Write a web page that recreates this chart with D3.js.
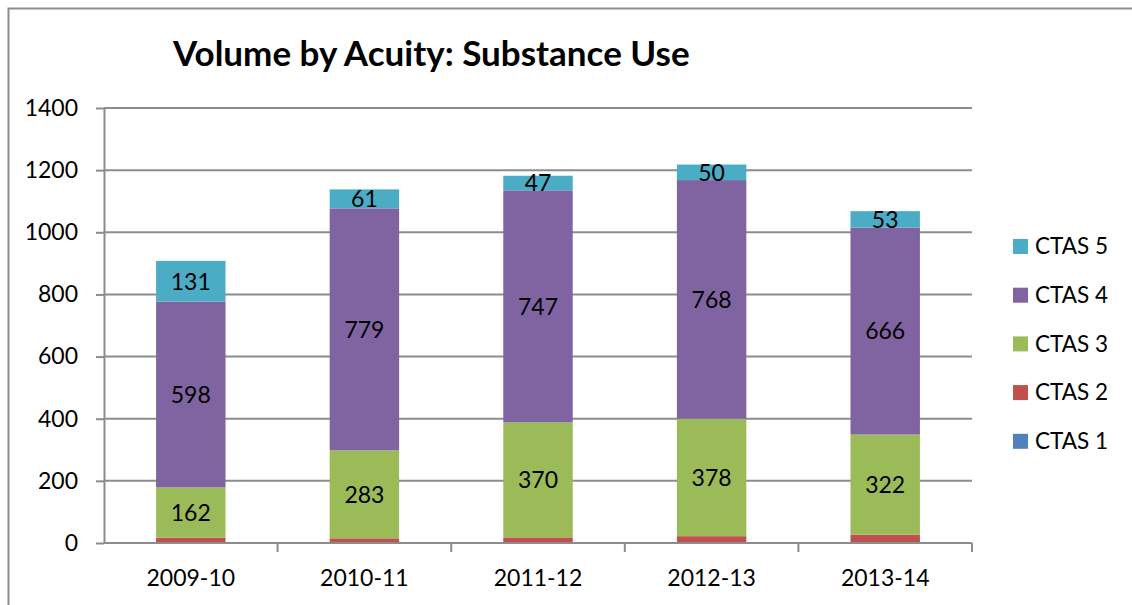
<!DOCTYPE html>
<html>
<head>
<meta charset="utf-8">
<script src="https://cdn.jsdelivr.net/npm/d3@7"></script>
<style>
  body { margin: 0; background: #fff; }
  svg text { font-family: Lato, "Open Sans", sans-serif; fill: #000; }
</style>
</head>
<body>
<svg id="chart"></svg>
<script>
// data
const years = ['2009-10', '2010-11', '2011-12', '2012-13', '2013-14'];
const seriesNames = ['CTAS 1', 'CTAS 2', 'CTAS 3', 'CTAS 4', 'CTAS 5'];
const ctas1 = [2, 3, 2, 2, 3];
const ctas2 = [15, 12, 16, 20, 24];
const ctas3 = [162, 283, 370, 378, 322];
const ctas4 = [598, 779, 747, 768, 666];
const ctas5 = [131, 61, 47, 50, 53];
const yTicks = [0, 200, 400, 600, 800, 1000, 1200, 1400];
const colors = ['#4F81BD', '#C0504D', '#9BBB59', '#8064A2', '#4BACC6'];
const labelled = ['CTAS 3', 'CTAS 4', 'CTAS 5'];

const width = 1132, height = 605;
const margin = {top: 108, right: 160, bottom: 62, left: 104};
const innerW = width - margin.left - margin.right;
const innerH = height - margin.top - margin.bottom;

const svg = d3.select('#chart').attr('width', width).attr('height', height);

// outer frame (only top and left visible)
svg.append('path')
  .attr('d', `M8.5,${height} V8.5 H${width}`)
  .attr('fill', 'none')
  .attr('stroke', '#8c8c8c')
  .attr('stroke-width', 2);

svg.append('text')
  .attr('x', 173).attr('y', 66)
  .attr('font-size', 35).attr('font-weight', 700)
  .text('Volume by Acuity: Substance Use');

const table = years.map((y, i) => ({
  year: y,
  'CTAS 1': ctas1[i], 'CTAS 2': ctas2[i], 'CTAS 3': ctas3[i],
  'CTAS 4': ctas4[i], 'CTAS 5': ctas5[i]
}));
const stacked = d3.stack().keys(seriesNames)(table);

const x = d3.scaleBand().domain(years).range([0, innerW]).paddingInner(0.6).paddingOuter(0.3);
const xOuter = d3.scaleBand().domain(years).range([0, innerW]);
const y = d3.scaleLinear().domain([0, 1400]).range([innerH, 0]);
const color = d3.scaleOrdinal().domain(seriesNames).range(colors);

const chart = svg.append('g').attr('transform', `translate(${margin.left},${margin.top})`);

// gridlines
chart.append('g')
  .selectAll('line')
  .data(yTicks.slice(1))
  .join('line')
  .attr('x1', 0).attr('x2', innerW)
  .attr('y1', d => y(d)).attr('y2', d => y(d))
  .attr('stroke', '#8c8c8c').attr('stroke-width', 2);

// bars
const layers = chart.append('g').selectAll('g')
  .data(stacked)
  .join('g')
  .attr('fill', d => color(d.key));

layers.selectAll('rect')
  .data(d => d)
  .join('rect')
  .attr('x', d => x(d.data.year))
  .attr('width', x.bandwidth())
  .attr('y', d => y(d[1]))
  .attr('height', d => y(d[0]) - y(d[1]));

// data labels
stacked.filter(s => labelled.includes(s.key)).forEach(s => {
  chart.append('g').selectAll('text')
    .data(s)
    .join('text')
    .attr('x', d => x(d.data.year) + x.bandwidth() / 2)
    .attr('y', d => (y(d[0]) + y(d[1])) / 2)
    .attr('dy', '0.36em')
    .attr('text-anchor', 'middle')
    .attr('font-size', 23)
    .text(d => d.data[s.key]);
});

// y axis
const yAxisG = chart.append('g')
  .call(d3.axisLeft(y).tickValues(yTicks).tickFormat(d3.format('d'))
    .tickSize(8).tickSizeOuter(0).tickPadding(18));
yAxisG.select('.domain').attr('stroke', '#8c8c8c').attr('stroke-width', 2);
yAxisG.selectAll('.tick line').attr('stroke', '#8c8c8c').attr('stroke-width', 2);
yAxisG.selectAll('.tick text').attr('font-size', 23).attr('fill', '#000')
  .style('font-family', 'Lato, sans-serif');

// x axis with tick marks on category boundaries
const xAxisG = chart.append('g').attr('transform', `translate(0,${innerH})`);
xAxisG.append('line')
  .attr('x1', 0).attr('x2', innerW)
  .attr('stroke', '#8c8c8c').attr('stroke-width', 2);
xAxisG.selectAll('.bound')
  .data(years)
  .join('line')
  .attr('class', 'bound')
  .attr('x1', d => xOuter(d) + xOuter.bandwidth())
  .attr('x2', d => xOuter(d) + xOuter.bandwidth())
  .attr('y1', 0).attr('y2', 9)
  .attr('stroke', '#8c8c8c').attr('stroke-width', 2);
xAxisG.selectAll('.xlab')
  .data(years)
  .join('text')
  .attr('class', 'xlab')
  .attr('x', d => xOuter(d) + xOuter.bandwidth() / 2)
  .attr('y', 43)
  .attr('text-anchor', 'middle')
  .attr('font-size', 23)
  .text(d => d);

// legend, top entry is CTAS 5
const legend = svg.append('g').attr('transform', 'translate(1013,246)');
const legendItems = legend.selectAll('g')
  .data(seriesNames.slice().reverse())
  .join('g')
  .attr('transform', (d, i) => `translate(0,${i * 48.7})`);
legendItems.append('rect')
  .attr('x', 0).attr('y', -7)
  .attr('width', 15).attr('height', 15)
  .attr('fill', d => color(d));
legendItems.append('text')
  .attr('x', 22).attr('dy', '0.36em')
  .attr('font-size', 22.5)
  .text(d => d);
</script>
</body>
</html>
